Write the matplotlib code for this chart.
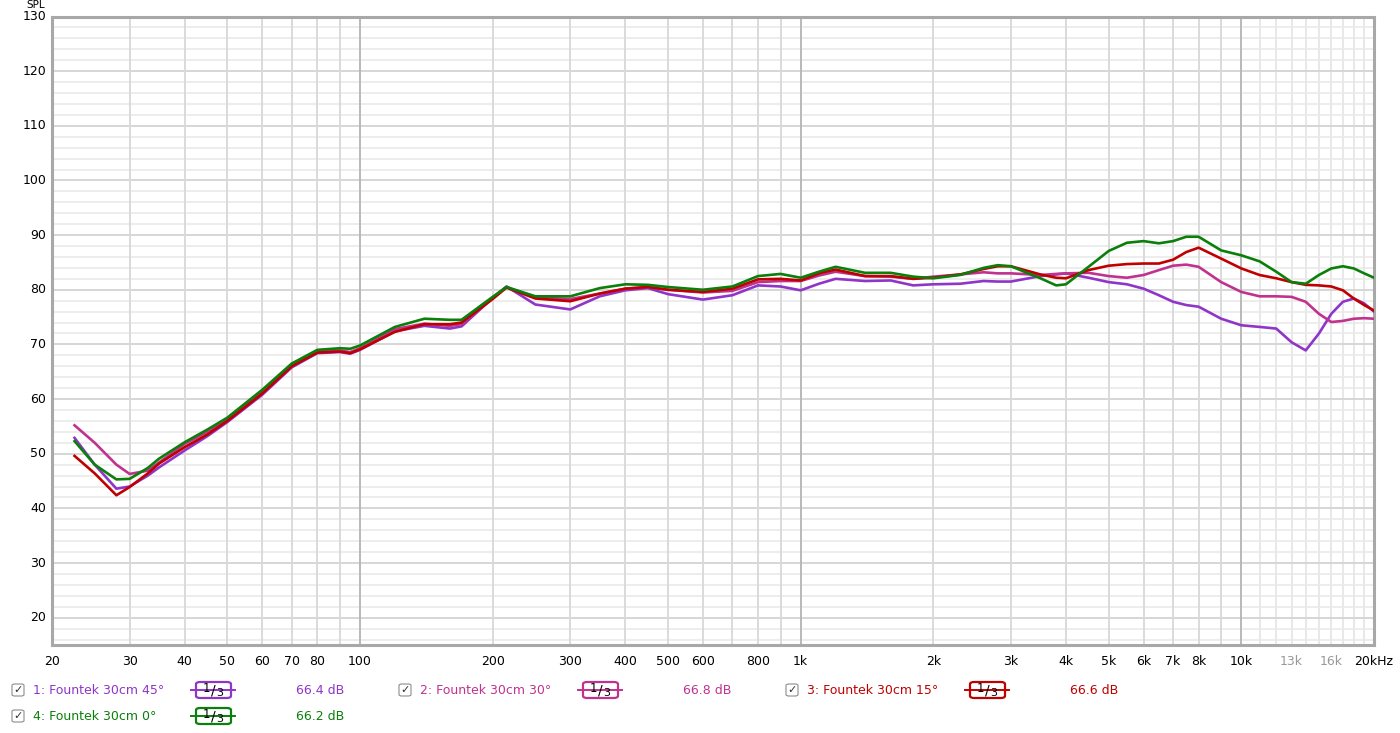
import numpy as np
import matplotlib
matplotlib.use('Agg')
import matplotlib.pyplot as plt
from matplotlib.patches import FancyBboxPatch

# frequency points (Hz)
freq = [22.5, 25, 28, 30, 33, 35, 40, 45, 50, 60, 70, 80, 90, 95, 100,
        120, 140, 160, 170, 200, 215, 250, 300, 350, 400, 450, 500, 600,
        700, 800, 900, 1000, 1100, 1200, 1400, 1600, 1800, 2000, 2300,
        2600, 2800, 3000, 3500, 3800, 4000, 4500, 5000, 5500, 6000, 6500,
        7000, 7500, 8000, 9000, 10000, 11000, 12000, 13000, 14000, 15000,
        16000, 17000, 18000, 19000, 20000]

# SPL (dB) per measurement
spl_45 = [52.9, 48.0, 43.6, 44.0, 46.0, 47.5, 50.6, 53.2, 55.8, 60.8, 65.8, 68.4, 68.6, 68.3, 69.0,
          72.4, 73.4, 72.9, 73.3, 78.5, 80.6, 77.3, 76.4, 78.8, 79.9, 80.3, 79.2, 78.2,
          79.0, 80.8, 80.6, 79.9, 81.1, 82.0, 81.6, 81.7, 80.8, 81.0, 81.1,
          81.6, 81.5, 81.5, 82.5, 82.8, 83.0, 82.2, 81.4, 81.0, 80.2, 79.0,
          77.8, 77.2, 76.9, 74.7, 73.5, 73.2, 72.9, 70.4, 68.9, 72.0,
          75.6, 77.8, 78.4, 77.5, 76.0]
spl_30 = [55.2, 52.0, 48.0, 46.3, 46.9, 48.4, 51.8, 54.0, 56.2, 61.3, 66.0, 68.8, 68.9, 68.6, 69.3,
          72.8, 73.8, 73.4, 73.7, 78.5, 80.5, 78.6, 78.3, 79.3, 80.2, 80.5, 80.0, 79.5,
          79.8, 81.4, 81.6, 81.6, 82.6, 83.3, 82.5, 82.4, 82.0, 82.4, 82.8,
          83.2, 83.0, 83.0, 82.7, 82.9, 83.0, 83.1, 82.5, 82.2, 82.7, 83.6,
          84.4, 84.6, 84.2, 81.4, 79.6, 78.8, 78.8, 78.7, 77.8, 75.6,
          74.1, 74.3, 74.7, 74.8, 74.7]
spl_15 = [49.6, 46.4, 42.4, 43.9, 46.4, 48.2, 51.2, 53.5, 56.0, 61.0, 66.0, 68.5, 68.7, 68.4, 69.1,
          72.3, 73.7, 73.7, 74.0, 78.3, 80.4, 78.4, 77.9, 79.3, 80.2, 80.5, 80.0, 79.6,
          80.2, 81.9, 82.0, 81.7, 83.0, 83.7, 82.5, 82.5, 82.0, 82.2, 82.8,
          83.8, 84.3, 84.3, 82.8, 82.2, 82.1, 83.6, 84.4, 84.7, 84.8, 84.8,
          85.5, 86.9, 87.7, 85.7, 83.9, 82.7, 82.1, 81.4, 80.9, 80.8,
          80.6, 79.9, 78.4, 77.2, 76.2]
spl_0 = [52.3, 48.0, 45.3, 45.4, 47.4, 49.1, 52.1, 54.4, 56.6, 61.7, 66.5, 69.0, 69.3, 69.2, 69.8,
         73.2, 74.7, 74.5, 74.5, 78.7, 80.5, 78.8, 78.8, 80.3, 81.0, 80.9, 80.5, 80.0,
         80.6, 82.5, 82.9, 82.2, 83.3, 84.2, 83.1, 83.1, 82.4, 82.1, 82.7,
         84.0, 84.5, 84.3, 82.1, 80.8, 81.0, 84.2, 87.1, 88.6, 88.9, 88.5,
         88.9, 89.7, 89.7, 87.2, 86.3, 85.2, 83.3, 81.4, 81.1, 82.7,
         83.9, 84.3, 83.9, 83.0, 82.2]

names = ['1: Fountek 30cm 45°', '2: Fountek 30cm 30°', '3: Fountek 30cm 15°', '4: Fountek 30cm 0°']
levels = ['66.4 dB', '66.8 dB', '66.6 dB', '66.2 dB']
colors = ['#8f35c8', '#c0328e', '#c00000', '#0a7f0a']
series = [spl_45, spl_30, spl_15, spl_0]

tick_freqs = [20, 30, 40, 50, 60, 70, 80, 100, 200, 300, 400, 500, 600, 800,
              1000, 2000, 3000, 4000, 5000, 6000, 7000, 8000, 10000, 13000, 16000, 20000]
tick_labels = ['20', '30', '40', '50', '60', '70', '80', '100', '200', '300', '400', '500', '600', '800',
               '1k', '2k', '3k', '4k', '5k', '6k', '7k', '8k', '10k', '13k', '16k', '20kHz']

W, H = 1400, 733
fig = plt.figure(figsize=(W / 100, H / 100), dpi=100)
ax = fig.add_axes([52 / W, 1 - 645 / H, 1322 / W, 628.5 / H])
ax.set_xscale('log')
ax.set_xlim(20, 20000)
ax.set_ylim(15, 130)

# grid
for v in range(16, 131, 2):
    if v % 10 == 0:
        ax.axhline(v, color='#d6d6d6', lw=1.4, zorder=1)
    else:
        ax.axhline(v, color='#ededed', lw=1.4, zorder=0)
grid_f = [m * 10 ** e for e in range(1, 5) for m in range(1, 10)] + list(range(11000, 20000, 1000))
for f in grid_f:
    if f <= 20 or f >= 20000:
        continue
    if f in (100, 1000, 10000):
        ax.axvline(f, color='#b9b9b9', lw=1.4, zorder=1)
    elif f > 10000:
        ax.axvline(f, color='#e8e8e8', lw=1.4, zorder=0)
    else:
        ax.axvline(f, color='#dadada', lw=1.4, zorder=1)

for s, c in zip(series, colors):
    ax.plot(freq, s, color=c, lw=1.9, zorder=3, solid_joinstyle='round')

ax.set_xticks(tick_freqs)
ax.set_xticklabels(tick_labels)
ax.xaxis.set_minor_locator(matplotlib.ticker.NullLocator())
for lab, f in zip(ax.get_xticklabels(), tick_freqs):
    if f in (13000, 16000):
        lab.set_color('#999999')
ax.set_yticks(range(20, 131, 10))
ax.tick_params(length=0, labelsize=9, pad=4)
ax.tick_params(axis='x', pad=7)
for lab in ax.get_yticklabels():
    lab.set_va('center')
for sp in ax.spines.values():
    sp.set_color('#a8a8a8')
    sp.set_linewidth(2.2)
fig.text(36 / W, 1 - 5 / H, 'SPL', fontsize=7.5, ha='center', va='center')

# legend rows under the chart
rows = [(0, 690), (387, 690), (774, 690), (0, 716)]
for (dx, y), nm, lv, c in zip(rows, names, levels, colors):
    yf = 1 - y / H
    box = FancyBboxPatch(((12 + dx) / W, yf - 6 / H), 12 / W, 12 / H,
                         boxstyle='round,pad=0,rounding_size=0.002',
                         transform=fig.transFigure, fc='white', ec='#8c8c8c', lw=0.8)
    fig.patches.append(box)
    fig.text((18 + dx) / W, yf, '✓', fontsize=8, ha='center', va='center', color='#333333')
    fig.text((33 + dx) / W, yf, nm, fontsize=9, color=c, va='center')
    fig.add_artist(plt.Line2D([(191 + dx) / W, (235 + dx) / W], [yf, yf], color=c, lw=1.4,
                              transform=fig.transFigure))
    fb = FancyBboxPatch(((196 + dx) / W, yf - 8 / H), 35 / W, 16 / H,
                        boxstyle='round,pad=0,rounding_size=0.003',
                        transform=fig.transFigure, fc='white', ec=c, lw=1.6)
    fig.patches.append(fb)
    fig.text((206 + dx) / W, yf + 2 / H, '1', fontsize=8.5, ha='center', va='center', color='black')
    fig.text((213 + dx) / W, yf, '/', fontsize=10, ha='center', va='center', color='black')
    fig.text((220 + dx) / W, yf - 3 / H, '3', fontsize=8, ha='center', va='center', color='black')
    fig.text((296 + dx) / W, yf, lv, fontsize=9, color=c, va='center')

fig.savefig('out.png', dpi=100)
